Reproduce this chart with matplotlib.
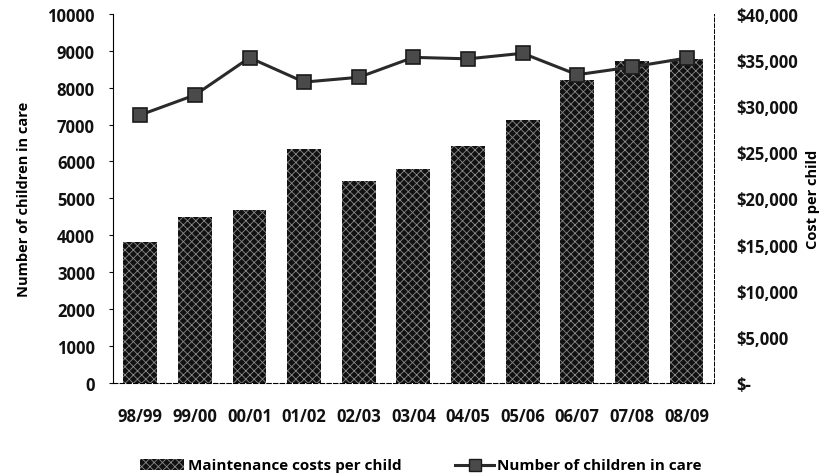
import matplotlib.pyplot as plt
from matplotlib.ticker import FuncFormatter

years = ["98/99", "99/00", "00/01", "01/02", "02/03", "03/04",
         "04/05", "05/06", "06/07", "07/08", "08/09"]
cost_per_child = [15300, 18000, 18750, 25400, 21900, 23200,
                  25700, 28500, 32800, 34900, 35100]
children_in_care = [7260, 7800, 8810, 8150, 8280, 8820,
                    8780, 8930, 8350, 8560, 8800]

plt.rcParams["font.family"] = ["Open Sans", "DejaVu Sans"]
plt.rcParams["hatch.linewidth"] = 0.6

fig = plt.figure(figsize=(8.31, 4.77), dpi=100)
ax = fig.add_axes([0.136, 0.195, 0.723, 0.774])
ax2 = ax.twinx()

x = range(len(years))

# bars go on the right (cost) axis, line on the left (count) axis
ax2.bar(x, cost_per_child, width=0.62, color="#111111",
        edgecolor="#8a8a8a", hatch="xxxx", linewidth=0, zorder=2)
ax.plot(x, children_in_care, color="#2a2a2a", lw=2.2, marker="s",
        markersize=10, markerfacecolor="#4a4a4a", markeredgecolor="#1a1a1a",
        markeredgewidth=1.2, zorder=5)
ax.set_zorder(ax2.get_zorder() + 1)
ax.patch.set_visible(False)

ax.set_xlim(-0.5, len(years) - 0.5)
ax.set_ylim(0, 10000)
ax2.set_ylim(0, 40000)
ax.set_yticks(range(0, 10001, 1000))
ax2.set_yticks(range(0, 40001, 5000))
ax.set_xticks(list(x))
ax.set_xticklabels(years)


def dollars(v, pos):
    return "$-" if v == 0 else f"${int(v):,}"


ax2.yaxis.set_major_formatter(FuncFormatter(dollars))

for a in (ax, ax2):
    for s in a.spines.values():
        s.set_visible(False)
    a.tick_params(width=0.8, length=3, colors="#111111")
    for lab in a.get_yticklabels() + a.get_xticklabels():
        lab.set_fontweight("bold")
        lab.set_fontsize(12)

ax.spines["left"].set_visible(True)
ax.spines["left"].set_linestyle((0, (4, 1)))
ax.spines["left"].set_linewidth(0.8)
ax.spines["bottom"].set_visible(True)
ax.spines["bottom"].set_linestyle((0, (4, 2)))
ax.spines["bottom"].set_linewidth(0.8)
ax2.spines["right"].set_visible(True)
ax2.spines["right"].set_linestyle((0, (4, 2)))
ax2.spines["right"].set_linewidth(0.7)
ax.tick_params(axis="x", length=0, pad=17)
ax.tick_params(axis="y", pad=10)
ax2.tick_params(axis="y", length=0, pad=16)

ax.set_ylabel("Number of children in care", fontsize=10.5,
              fontweight="bold", labelpad=12)
ax2.set_ylabel("Cost per child", fontsize=10.5, fontweight="bold",
               rotation=90, labelpad=6)

# legend drawn below the axis like the original
fig.patches.append(plt.Rectangle((0.168, 0.012), 0.054, 0.024,
                                 transform=fig.transFigure,
                                 facecolor="#111111", edgecolor="#8a8a8a",
                                 hatch="xxxx", linewidth=0))
fig.text(0.226, 0.024, "Maintenance costs per child", fontsize=11,
         fontweight="bold", va="center")
fig.lines.append(plt.Line2D([0.547, 0.595, 0.571], [0.024, 0.024, 0.024],
                            transform=fig.transFigure, color="#2a2a2a",
                            lw=2.2, marker="s", markersize=9,
                            markevery=[2], markerfacecolor="#4a4a4a",
                            markeredgecolor="#1a1a1a"))
fig.text(0.598, 0.024, "Number of children in care", fontsize=11,
         fontweight="bold", va="center")

fig.savefig("out.png", dpi=100)
